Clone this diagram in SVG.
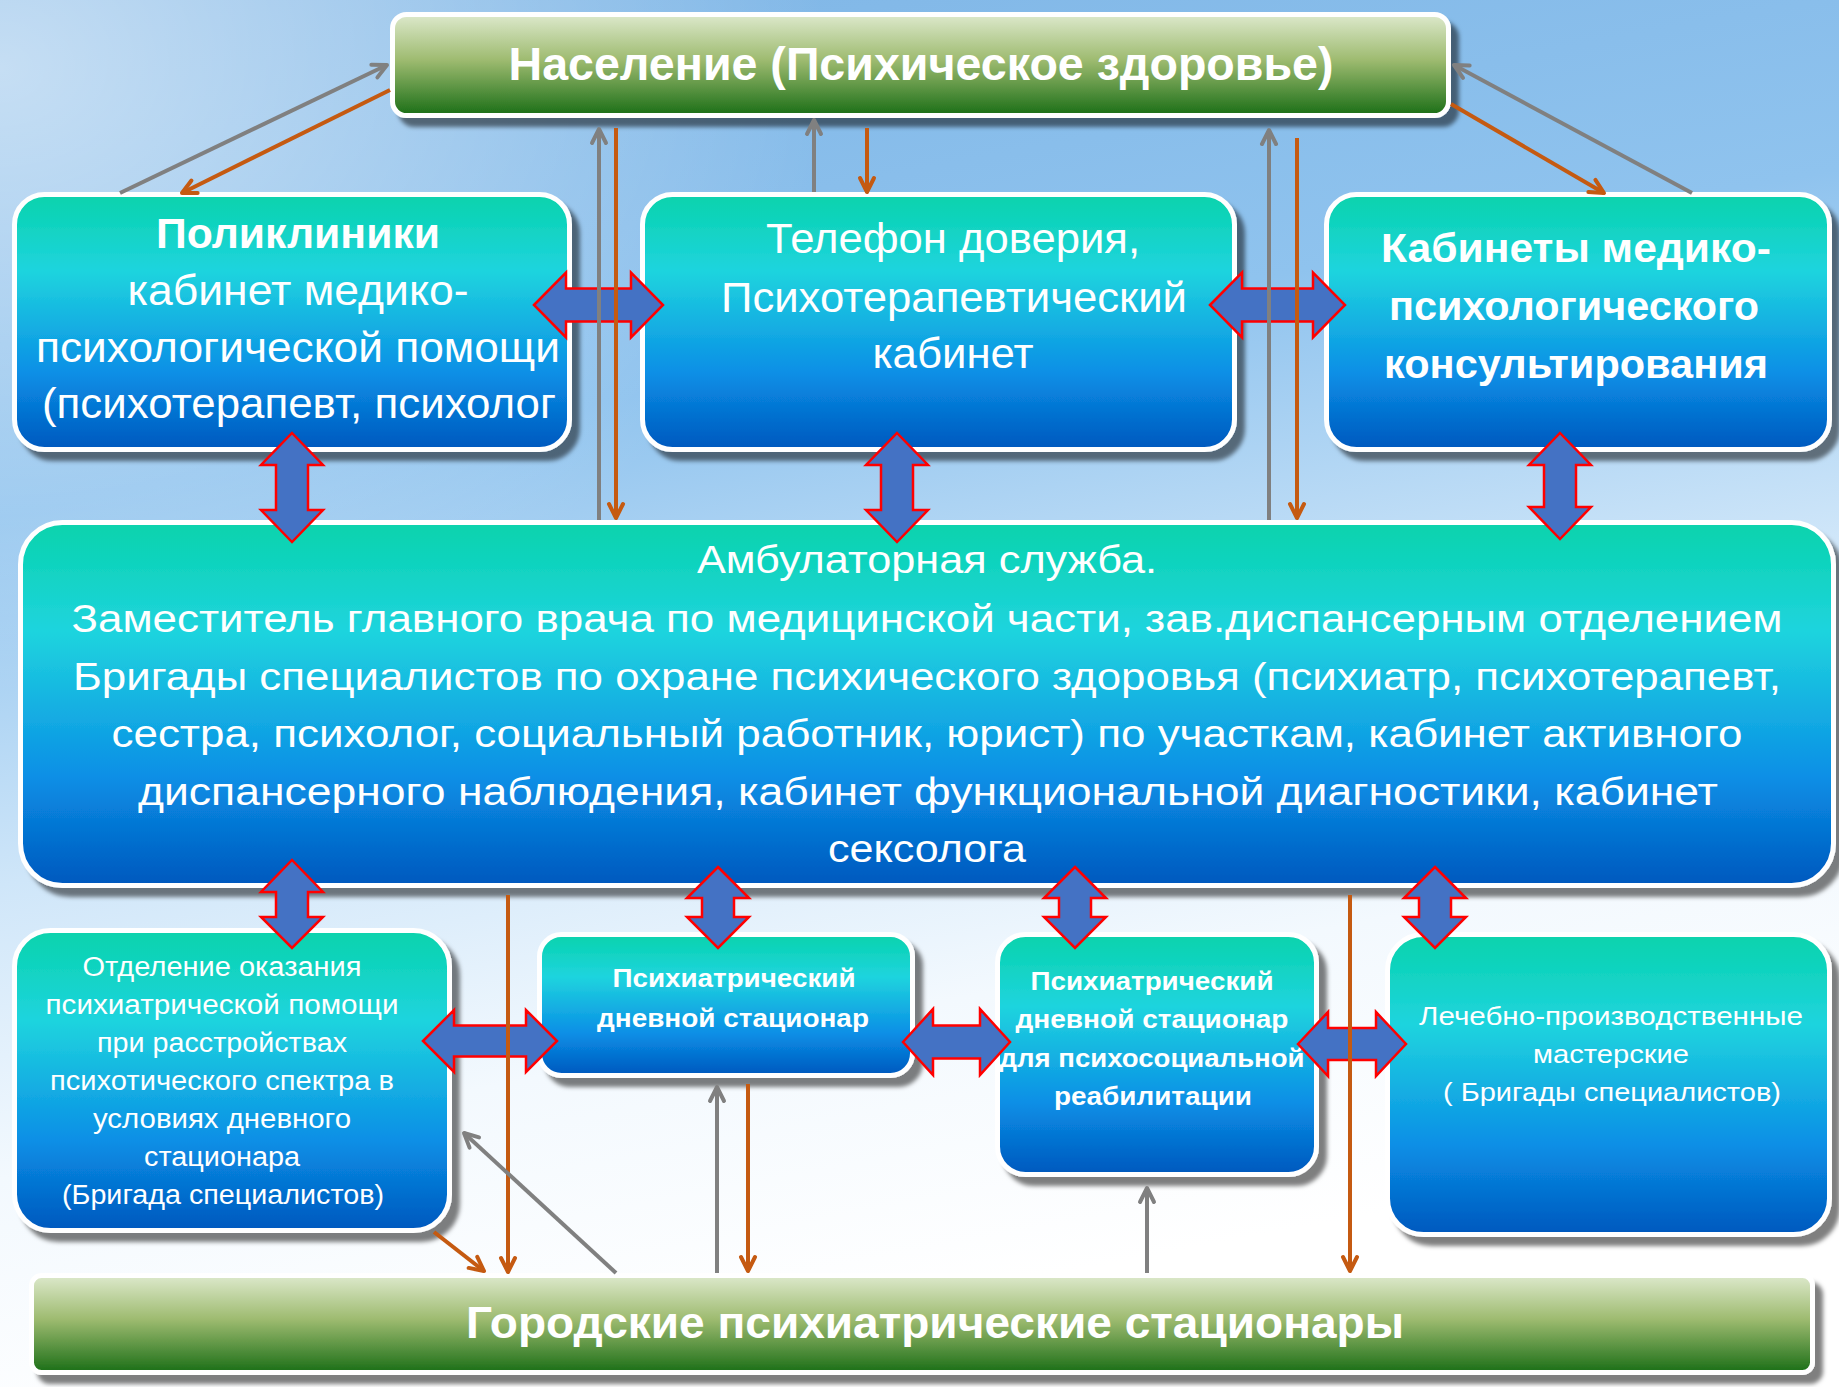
<svg xmlns="http://www.w3.org/2000/svg" width="1839" height="1387" viewBox="0 0 1839 1387">
<defs>
<linearGradient id="bg" x1="0" y1="0" x2="0.25" y2="1">
<stop offset="0" stop-color="#7db4e5"/>
<stop offset="0.35" stop-color="#8fc3ee"/>
<stop offset="0.6" stop-color="#cfe6f9"/>
<stop offset="0.8" stop-color="#f3f9fe"/>
<stop offset="1" stop-color="#ffffff"/>
</linearGradient>
<radialGradient id="bgl" cx="0" cy="0.05" r="0.45">
<stop offset="0" stop-color="#ffffff" stop-opacity="0.55"/>
<stop offset="1" stop-color="#ffffff" stop-opacity="0"/>
</radialGradient>
<linearGradient id="blue" x1="0" y1="0" x2="0" y2="1">
<stop offset="0" stop-color="#07d3ac"/>
<stop offset="0.3" stop-color="#1fd4de"/>
<stop offset="0.7" stop-color="#0a8fe6"/>
<stop offset="1" stop-color="#0058be"/>
</linearGradient>
<linearGradient id="green" x1="0" y1="0" x2="0" y2="1">
<stop offset="0" stop-color="#dde9cc"/>
<stop offset="0.45" stop-color="#9ebb70"/>
<stop offset="1" stop-color="#1a6e16"/>
</linearGradient>
<filter id="ds" x="-5%" y="-10%" width="115%" height="130%">
<feDropShadow dx="8" dy="9" stdDeviation="2" flood-color="#000" flood-opacity="0.5"/>
</filter>
<marker id="ag" viewBox="0 0 20 20" refX="17" refY="10" markerWidth="20" markerHeight="20" markerUnits="userSpaceOnUse" orient="auto">
<path d="M3,3 L17,10 L3,17" fill="none" stroke="#808080" stroke-width="4" stroke-linecap="round" stroke-linejoin="round"/>
</marker>
<marker id="ao" viewBox="0 0 20 20" refX="17" refY="10" markerWidth="20" markerHeight="20" markerUnits="userSpaceOnUse" orient="auto">
<path d="M3,3 L17,10 L3,17" fill="none" stroke="#c55a11" stroke-width="4" stroke-linecap="round" stroke-linejoin="round"/>
</marker>
</defs>
<style>
.bx{fill:url(#blue);stroke:#ffffff;stroke-width:5;filter:url(#ds)}
.gr{fill:url(#green);stroke:#ffffff;stroke-width:5;filter:url(#ds)}
.t{font-family:"Liberation Sans",Arial,sans-serif;fill:#ffffff;text-anchor:middle}
.b{font-weight:bold}
.ba{fill:#4472c4;stroke:#ff0000;stroke-width:2.5;stroke-linejoin:miter}
.g{stroke:#808080;stroke-width:4;fill:none;marker-end:url(#ag)}
.o{stroke:#c55a11;stroke-width:4;fill:none;marker-end:url(#ao)}
</style>
<rect x="0" y="0" width="1839" height="1387" fill="url(#bg)"/>
<rect x="0" y="0" width="1839" height="1387" fill="url(#bgl)"/>

<g id="node-naselenie">
<rect class="gr" x="392.5" y="14.5" width="1056" height="101" rx="14"/>
<text class="t b" x="921" y="80" font-size="46" textLength="825" lengthAdjust="spacingAndGlyphs">Население (Психическое здоровье)</text>
</g>

<g id="node-polikliniki">
<rect class="bx" x="14.5" y="194.5" width="555" height="255" rx="30"/>
<text class="t b" x="298" y="248" font-size="42" textLength="284" lengthAdjust="spacingAndGlyphs">Поликлиники</text>
<text class="t" x="298" y="305" font-size="42" textLength="341" lengthAdjust="spacingAndGlyphs">кабинет медико-</text>
<text class="t" x="298" y="362" font-size="42" textLength="524" lengthAdjust="spacingAndGlyphs">психологической помощи</text>
<text class="t" x="299" y="418" font-size="42" textLength="514" lengthAdjust="spacingAndGlyphs">(психотерапевт, психолог</text>
</g>

<g id="node-telefon">
<rect class="bx" x="642.5" y="194.5" width="592" height="255" rx="30"/>
<text class="t" x="953" y="253" font-size="42" textLength="374" lengthAdjust="spacingAndGlyphs">Телефон доверия,</text>
<text class="t" x="954" y="312" font-size="42" textLength="466" lengthAdjust="spacingAndGlyphs">Психотерапевтический</text>
<text class="t" x="953" y="368" font-size="42" textLength="161" lengthAdjust="spacingAndGlyphs">кабинет</text>
</g>

<g id="node-kabinety">
<rect class="bx" x="1326.5" y="194.5" width="503" height="255" rx="30"/>
<text class="t b" x="1576" y="262" font-size="40" textLength="390" lengthAdjust="spacingAndGlyphs">Кабинеты медико-</text>
<text class="t b" x="1574" y="320" font-size="40" textLength="370" lengthAdjust="spacingAndGlyphs">психологического</text>
<text class="t b" x="1576" y="378" font-size="40" textLength="384" lengthAdjust="spacingAndGlyphs">консультирования</text>
</g>

<g id="node-ambulatory">
<rect class="bx" x="20.5" y="522.5" width="1813" height="363" rx="42"/>
<text class="t" x="927" y="573" font-size="38" textLength="460" lengthAdjust="spacingAndGlyphs">Амбулаторная служба.</text>
<text class="t" x="927" y="632" font-size="38" textLength="1711" lengthAdjust="spacingAndGlyphs">Заместитель главного врача по медицинской части, зав.диспансерным отделением</text>
<text class="t" x="927" y="690" font-size="38" textLength="1708" lengthAdjust="spacingAndGlyphs">Бригады специалистов по охране психического здоровья (психиатр, психотерапевт,</text>
<text class="t" x="927" y="747" font-size="38" textLength="1631" lengthAdjust="spacingAndGlyphs">сестра, психолог, социальный работник, юрист) по участкам, кабинет активного</text>
<text class="t" x="928" y="805" font-size="38" textLength="1580" lengthAdjust="spacingAndGlyphs">диспансерного наблюдения, кабинет функциональной диагностики, кабинет</text>
<text class="t" x="927" y="862" font-size="38" textLength="198" lengthAdjust="spacingAndGlyphs">сексолога</text>
</g>

<g id="node-otdelenie">
<rect class="bx" x="14.5" y="930.5" width="435" height="300" rx="36"/>
<text class="t" x="222" y="976" font-size="27" textLength="279" lengthAdjust="spacingAndGlyphs">Отделение оказания</text>
<text class="t" x="222" y="1014" font-size="27" textLength="353" lengthAdjust="spacingAndGlyphs">психиатрической помощи</text>
<text class="t" x="222" y="1052" font-size="27" textLength="250" lengthAdjust="spacingAndGlyphs">при расстройствах</text>
<text class="t" x="222" y="1090" font-size="27" textLength="344" lengthAdjust="spacingAndGlyphs">психотического спектра в</text>
<text class="t" x="222" y="1128" font-size="27" textLength="258" lengthAdjust="spacingAndGlyphs">условиях дневного</text>
<text class="t" x="222" y="1166" font-size="27" textLength="156" lengthAdjust="spacingAndGlyphs">стационара</text>
<text class="t" x="223" y="1204" font-size="27" textLength="322" lengthAdjust="spacingAndGlyphs">(Бригада специалистов)</text>
</g>

<g id="node-pds">
<rect class="bx" x="539.5" y="934.5" width="373" height="141" rx="22"/>
<text class="t b" x="734" y="987" font-size="26" textLength="243" lengthAdjust="spacingAndGlyphs">Психиатрический</text>
<text class="t b" x="733" y="1027" font-size="26" textLength="272" lengthAdjust="spacingAndGlyphs">дневной стационар</text>
</g>

<g id="node-ppr">
<rect class="bx" x="997.5" y="934.5" width="319" height="240" rx="28"/>
<text class="t b" x="1152" y="990" font-size="26" textLength="243" lengthAdjust="spacingAndGlyphs">Психиатрический</text>
<text class="t b" x="1152" y="1028" font-size="26" textLength="273" lengthAdjust="spacingAndGlyphs">дневной стационар</text>
<text class="t b" x="1152" y="1067" font-size="26" textLength="305" lengthAdjust="spacingAndGlyphs">для психосоциальной</text>
<text class="t b" x="1153" y="1105" font-size="26" textLength="198" lengthAdjust="spacingAndGlyphs">реабилитации</text>
</g>

<g id="node-lpm">
<rect class="bx" x="1387.5" y="934.5" width="442" height="300" rx="36"/>
<text class="t" x="1611" y="1025" font-size="26" textLength="384" lengthAdjust="spacingAndGlyphs">Лечебно-производственные</text>
<text class="t" x="1611" y="1063" font-size="26" textLength="156" lengthAdjust="spacingAndGlyphs">мастерские</text>
<text class="t" x="1612" y="1101" font-size="26" textLength="338" lengthAdjust="spacingAndGlyphs">( Бригады специалистов)</text>
</g>

<g id="node-gorodskie">
<rect class="gr" x="31.5" y="1275.5" width="1781" height="97" rx="10"/>
<text class="t b" x="935" y="1338" font-size="44" textLength="938" lengthAdjust="spacingAndGlyphs">Городские психиатрические стационары</text>
</g>

<g id="block-arrows">
<polygon class="ba" points="534,305 566,272.5 566,288.5 631,288.5 631,272.5 663,305 631,337.5 631,321.5 566,321.5 566,337.5"/>
<polygon class="ba" points="1210,305 1242,272.5 1242,288.5 1313,288.5 1313,272.5 1345,305 1313,337.5 1313,321.5 1242,321.5 1242,337.5"/>
<polygon class="ba" points="423,1041 454,1010 454,1025.5 526,1025.5 526,1010 557,1041 526,1072 526,1056.5 454,1056.5 454,1072"/>
<polygon class="ba" points="903,1042 933,1009 933,1025.5 980,1025.5 980,1009 1010,1042 980,1075 980,1058.5 933,1058.5 933,1075"/>
<polygon class="ba" points="1298,1044 1328,1012 1328,1028 1376,1028 1376,1012 1406,1044 1376,1076 1376,1060 1328,1060 1328,1076"/>
<polygon class="ba" points="292,433 323,465 308,465 308,510 323,510 292,542 261,510 276,510 276,465 261,465"/>
<polygon class="ba" points="897,433 928,465 913,465 913,510 928,510 897,542 866,510 881,510 881,465 866,465"/>
<polygon class="ba" points="1560,433 1591,465 1576,465 1576,507 1591,507 1560,539 1529,507 1544,507 1544,465 1529,465"/>
<polygon class="ba" points="292,860 323,892 308,892 308,917 323,917 292,948 261,917 276,917 276,892 261,892"/>
<polygon class="ba" points="718,867 749,898 734,898 734,917 749,917 718,948 687,917 702,917 702,898 687,898"/>
<polygon class="ba" points="1075,867 1106,898 1091,898 1091,917 1106,917 1075,948 1044,917 1059,917 1059,898 1044,898"/>
<polygon class="ba" points="1435,867 1466,898 1451,898 1451,917 1466,917 1435,948 1404,917 1419,917 1419,898 1404,898"/>
</g>

<g id="connectors">
<path class="g" d="M120,193 L387,65"/>
<path class="o" d="M390,90 L182,193"/>
<path class="g" d="M599,520 L599,129"/>
<path class="o" d="M616,128 L616,518"/>
<path class="g" d="M814,192 L814,120"/>
<path class="o" d="M867,128 L867,192"/>
<path class="g" d="M1269,520 L1269,130"/>
<path class="o" d="M1297,138 L1297,518"/>
<path class="o" d="M1451,104 L1604,193"/>
<path class="g" d="M1692,193 L1454,65"/>
<path class="o" d="M508,895 L508,1272"/>
<path class="o" d="M434,1232 L484,1271"/>
<path class="g" d="M616,1273 L464,1133"/>
<path class="g" d="M717,1273 L717,1087"/>
<path class="o" d="M748,1084 L748,1271"/>
<path class="g" d="M1147,1273 L1147,1188"/>
<path class="o" d="M1350,895 L1350,1271"/>
</g>
</svg>
